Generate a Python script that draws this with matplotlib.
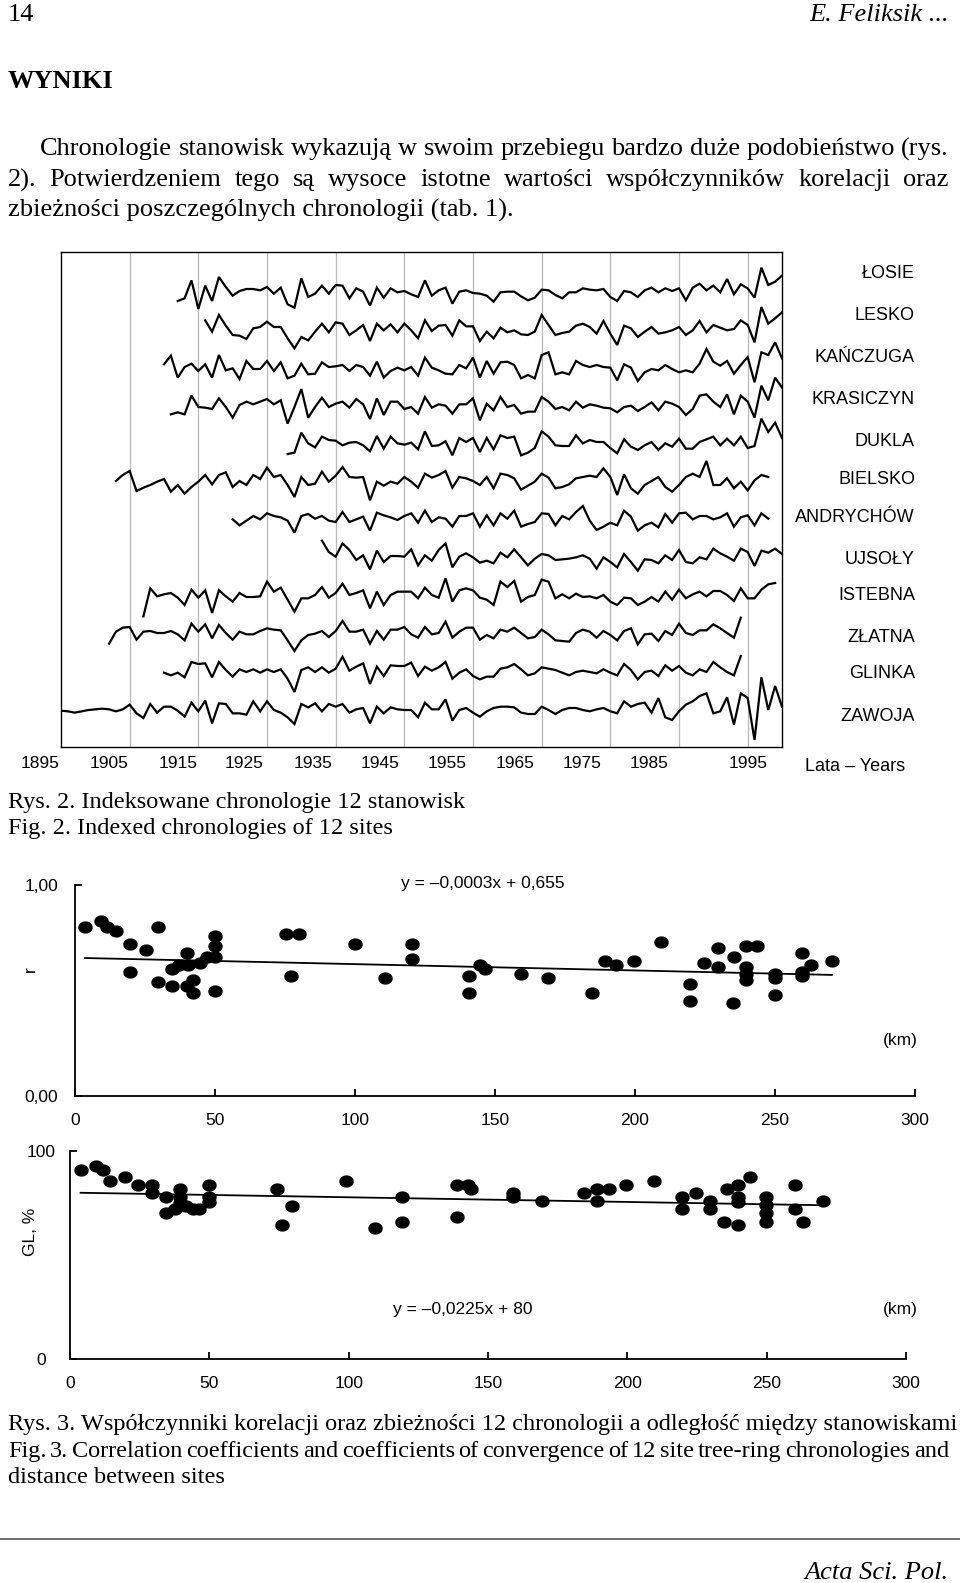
import numpy as np
import matplotlib
matplotlib.use('Agg')
import matplotlib.pyplot as plt
from matplotlib.transforms import Affine2D
from matplotlib.lines import Line2D

plt.rcParams['font.family'] = ['Liberation Sans', 'DejaVu Sans']

# ---- Rys. 2: indexed chronologies (index values, one per year) ----
sites = ['ŁOSIE', 'LESKO', 'KAŃCZUGA', 'KRASICZYN', 'DUKLA', 'BIELSKO',
         'ANDRYCHÓW', 'UJSOŁY', 'ISTEBNA', 'ZŁATNA', 'GLINKA', 'ZAWOJA']
first_year = [1912, 1916, 1910, 1911, 1928, 1903, 1920, 1933, 1907, 1902, 1910, 1895]

losie = [86, 90, 117, 74, 109, 86, 122, 107, 94, 101, 104, 104, 102, 107, 97, 106, 81, 76, 120, 92, 97, 109, 97, 110,
         109, 90, 105, 100, 79, 106, 91, 105, 99, 101, 96, 92, 117, 94, 102, 106, 82, 100, 102, 98, 97, 94, 85, 99, 100, 100,
         93, 87, 91, 103, 102, 95, 90,
         99, 99, 105, 103, 102, 104, 92, 86, 101, 99, 92, 102, 106, 99, 105, 101, 105, 87, 106, 112, 102, 109, 99, 119, 96,
         111, 105, 91, 136, 110, 115, 124]
lesko = [112, 95, 120, 104, 90, 89, 84, 100, 102, 110, 102, 102, 85, 70, 87, 82, 95, 107, 94, 109,
         107, 90, 97, 105, 81, 107, 97, 106, 94, 107, 97, 85, 112, 96, 104, 105, 89, 112, 103, 103, 81, 95, 85, 101, 94, 97,
         91, 90, 95, 120, 105, 90, 93,
         95, 104, 107, 102, 92, 111, 92, 75, 104, 100, 87, 95, 102, 92, 94, 97, 102, 90, 97, 111, 94, 105, 101, 97, 99, 112,
         105, 79, 132, 107, 115, 124]
kanczuga = [106, 119, 86, 102, 107, 96, 106, 86, 120, 97, 100, 84, 111, 99, 99, 111, 96, 109, 85, 89, 107, 91, 92, 109,
            102, 103,
            105, 96, 105, 102, 89, 110, 86, 96, 101, 97, 102, 89, 116, 101, 97, 92, 91, 105, 100, 116, 86, 111, 92, 109, 110,
            105, 85, 90, 85, 120, 124, 91, 94,
            91, 111, 105, 102, 105, 102, 101, 82, 106, 101, 81, 94, 99, 97, 105, 99, 94, 97, 94, 107, 129, 110, 104, 111, 92,
            105, 117, 79, 124, 120, 139, 115]
krasiczyn = [86, 89, 86, 114, 97, 96, 94, 110, 97, 81, 100, 105, 101, 105, 109, 101, 107, 72, 97, 124, 81, 97, 111, 97, 102,
             105, 96, 109, 101, 79, 110, 85, 105, 105, 94, 97, 87, 112, 96, 101, 99, 87, 101, 101, 110, 77, 102, 92, 112, 97,
             100, 87, 90, 90, 112, 105, 94, 97,
             92, 105, 96, 101, 99, 96, 95, 89, 97, 99, 91, 97, 104, 92, 105, 102, 97, 85, 94, 114, 116, 105, 97, 116, 86, 114,
             105, 81, 129, 107, 141, 126]
dukla = [84, 86, 116, 100, 94, 110, 105, 104,
         97, 101, 102, 97, 88, 111, 92, 110, 100, 98, 101, 91, 118, 96, 97, 103, 82, 108, 102, 108, 87, 108, 91, 112, 108, 110,
         82, 86, 93, 118, 110, 97, 96,
         96, 112, 100, 105, 102, 102, 93, 85, 106, 95, 90, 97, 102, 90, 100, 95, 107, 92, 92, 102, 106, 110, 97, 107, 97, 110,
         93, 96, 137, 117, 131, 108]
bielsko = [101, 110, 116, 86, 91, 95, 100, 104, 85, 95, 82, 92, 100, 110, 96, 110, 114, 92, 101, 95, 110, 104, 121, 107, 110,
           95, 77, 107, 95, 97, 115, 100, 109,
           122, 107, 106, 107, 72, 100, 94, 100, 97, 107, 100, 91, 112, 106, 110, 116, 91, 107, 105, 101, 95, 107, 90, 112, 110,
           105, 88, 94, 100, 112, 106, 90, 92,
           96, 105, 107, 109, 107, 120, 107, 80, 111, 90, 82, 95, 101, 107, 92, 85, 95, 107, 112, 107, 131, 95, 95, 105, 90,
           100, 87, 102, 110, 107]
andrychow = [100, 91, 98, 105, 100, 109, 105, 103, 98, 80, 105, 108, 101, 105, 98, 96,
             111, 96, 100, 104, 83, 110, 106, 103, 99, 105, 109, 95, 113, 96, 103, 101, 89, 105, 105, 109, 89, 106, 91, 109,
             101, 113, 89, 93, 96, 109, 108, 91, 105,
             100, 111, 120, 98, 84, 89, 95, 91, 113, 104, 83, 91, 95, 88, 108, 95, 109, 110, 100, 105, 105, 100, 103, 109, 89,
             103, 106, 91, 109, 101]
ujsoly = [124, 107, 100,
          120, 110, 95, 102, 81, 109, 92, 101, 101, 100, 111, 87, 102, 94, 110, 120, 84, 100, 105, 99, 91, 94, 90, 106, 99, 111,
          99, 87, 97, 104, 102, 95, 96,
          97, 99, 102, 97, 82, 99, 92, 84, 104, 92, 79, 96, 95, 90, 102, 95, 110, 92, 90, 99, 96, 112, 105, 100, 94, 112, 107,
          86, 109, 106, 112, 104]
istebna = [68, 110, 98, 101, 103, 96, 85, 108, 96, 107, 73, 107, 98, 90, 103, 97, 97, 98, 120, 105, 111, 93, 75, 95, 95, 100,
           112, 96, 103,
           117, 100, 103, 107, 80, 105, 85, 100, 105, 105, 105, 95, 111, 100, 96, 125, 90, 107, 110, 107, 96, 93, 85, 120, 112,
           121, 90, 97, 100, 123, 120, 95, 101,
           95, 102, 97, 98, 95, 100, 90, 85, 96, 95, 85, 90, 97, 90, 105, 93, 108, 95, 101, 105, 98, 106, 106, 100, 91, 110,
           95, 95, 108, 116, 118]
zlatna = [82, 100, 106, 107, 88, 100, 101, 98, 98, 101, 96, 87, 112, 100, 111, 90, 110, 98, 88, 100, 96, 96, 101, 105, 103,
          102, 87, 71, 87, 95, 97, 101, 92, 101,
          116, 100, 100, 103, 82, 101, 88, 103, 103, 107, 96, 91, 107, 96, 98, 115, 91, 100, 106, 106, 88, 95, 90, 103, 100,
          106, 98, 90, 92, 103, 96, 87, 86,
          85, 98, 103, 100, 91, 101, 95, 87, 101, 105, 81, 96, 97, 86, 101, 95, 112, 98, 95, 102, 102, 111, 105, 98, 91, 121]
glinka = [96, 92, 96, 89, 112, 109, 110, 89, 112, 100, 90, 101, 97, 101, 96, 101, 97, 101, 87, 67, 100, 104, 97, 104, 96, 102,
          120, 99, 105, 110, 79, 105, 91, 107, 106, 106, 111, 91, 105, 99, 104, 112, 87, 96, 101, 91, 86, 90, 90, 102, 104,
          109, 101, 92, 95, 104, 102, 100, 96,
          92, 97, 99, 97, 95, 101, 96, 92, 109, 100, 86, 97, 99, 91, 107, 99, 106, 96, 92, 101, 97, 112, 104, 97, 92, 121]
zawoja = [99, 98, 96, 98, 100, 101, 102, 101, 98, 101, 108, 95, 88, 109, 96, 105, 105, 99, 90, 111, 98, 114, 80, 110, 109,
          95, 95, 93, 113, 98, 113, 100, 96, 89, 79, 109, 104, 110, 98, 109, 105,
          109, 96, 101, 103, 80, 105, 95, 104, 101, 100, 100, 89, 111, 101, 101, 116, 84, 100, 103, 96, 90, 98, 103, 105, 105,
          104, 96, 94, 94, 105, 100, 94, 100,
          103, 103, 100, 98, 101, 103, 98, 95, 113, 105, 109, 111, 96, 118, 89, 85, 98, 108, 113, 121, 125, 95, 98, 119, 78,
          125, 118, 55, 149, 100, 136, 105]
chronologies = [losie, lesko, kanczuga, krasiczyn, dukla, bielsko,
                andrychow, ujsoly, istebna, zlatna, glinka, zawoja]

year_labels = ['1895', '1905', '1915', '1925', '1935', '1945', '1955', '1965', '1975', '1985', '1995']

# ---- Rys. 3: correlation (r) and convergence (GL, %) against distance (km) ----
r_km = [3.6, 9.4, 11.4, 14.7, 19.8, 25.2, 19.8, 29.6, 29.6, 34.8, 34.8, 37.2, 39.9, 40.2, 39.9, 42.3, 42.0,
        44.7, 47.1, 50.0, 50.0, 50.0, 50.0, 75.2, 80.0, 77.1, 100.1, 110.7, 120.5, 120.5, 140.6, 140.6, 144.7,
        146.3, 159.2, 169.1, 184.7, 189.2, 193.3, 199.8, 209.4, 219.7, 219.7, 224.5, 229.7, 229.7, 235.5, 234.9,
        239.5, 243.5, 239.5, 239.5, 239.5, 249.9, 249.9, 249.9, 259.7, 259.7, 259.7, 262.7, 270.3]
r_val = [0.80, 0.83, 0.80, 0.78, 0.72, 0.69, 0.59, 0.80, 0.54, 0.60, 0.52, 0.62, 0.68, 0.62, 0.52, 0.55, 0.49,
         0.63, 0.66, 0.76, 0.71, 0.66, 0.50, 0.77, 0.77, 0.57, 0.72, 0.56, 0.72, 0.65, 0.57, 0.49, 0.62,
         0.60, 0.58, 0.56, 0.49, 0.64, 0.62, 0.64, 0.73, 0.53, 0.45, 0.63, 0.70, 0.61, 0.66, 0.44,
         0.71, 0.71, 0.61, 0.58, 0.55, 0.58, 0.56, 0.48, 0.68, 0.59, 0.57, 0.62, 0.64]
r_slope, r_icpt = -0.0003, 0.655

gl_km = [3.8, 9.3, 11.7, 14.5, 19.6, 24.4, 29.5, 29.5, 34.5, 34.5, 37.5, 39.3, 39.3, 39.3, 41.7, 44.0, 46.4,
         49.8, 49.8, 49.8, 74.4, 76.0, 79.5, 99.0, 109.3, 119.0, 119.0, 139.0, 139.0, 142.9, 144.0,
         158.8, 158.8, 169.4, 184.5, 189.0, 189.0, 193.4, 199.6, 209.5, 219.6, 219.6, 224.8, 229.8, 229.8, 234.7,
         235.9, 239.7, 239.7, 239.7, 239.7, 244.1, 249.8, 249.8, 249.8, 249.8, 260.3, 260.3, 263.1, 270.3]
gl_val = [90.9, 92.8, 90.9, 85.6, 87.7, 83.7, 83.7, 80.0, 77.8, 70.1, 72.0, 81.6, 77.8, 74.9, 73.6, 72.0, 72.0,
          83.7, 77.8, 75.7, 81.6, 64.5, 73.6, 85.6, 62.9, 77.8, 66.1, 83.7, 68.2, 83.7, 81.6,
          80.0, 77.8, 76.0, 80.0, 81.6, 76.0, 81.6, 83.7, 85.6, 77.8, 72.0, 80.0, 76.0, 72.0, 66.1,
          81.6, 83.7, 77.8, 75.7, 64.5, 87.7, 77.8, 74.1, 70.1, 66.1, 83.7, 72.0, 66.1, 76.0]
gl_slope, gl_icpt = -0.0225, 80

# ---------------------------------------------------------------------------
W, H = 960, 1583
fig = plt.figure(figsize=(W / 100, H / 100), dpi=100)
pix = Affine2D().scale(1 / W, -1 / H).translate(0, 1) + fig.transFigure
renderer = fig.canvas.get_renderer()
SERIF = 'Liberation Serif'


def rect(l, t, r, b):
    return [l / W, 1 - b / H, (r - l) / W, (b - t) / H]


def width_of(s, **kw):
    t = fig.text(0, 0, s, **kw)
    w = t.get_window_extent(renderer).width
    t.remove()
    return w


def fit_size(s, target, **kw):
    return 18 * target / width_of(s, fontsize=18, **kw)


def justified(line, x0, x1, y, **kw):
    words = line.split()
    texts = [fig.text(0, y, w, transform=pix, va='center', **kw) for w in words]
    widths = [t.get_window_extent(renderer).width for t in texts]
    gap = (x1 - x0 - sum(widths)) / (len(words) - 1)
    x = x0
    for t, w in zip(texts, widths):
        t.set_x(x)
        x += w + gap


# ---- page text ----
line1 = 'Chronologie stanowisk wykazują w swoim przebiegu bardzo duże podobieństwo (rys.'
fs_body = fit_size(line1, 909, family=SERIF)
fig.text(8, 15, '14', transform=pix, va='center', family=SERIF, fontsize=fs_body)
fig.text(949, 15, 'E. Feliksik ...', transform=pix, va='center', ha='right', family=SERIF,
         style='italic', fontsize=fs_body)
fig.text(8, 81, 'WYNIKI', transform=pix, va='center', family=SERIF, weight='bold', fontsize=fs_body)
justified(line1, 40, 949, 149, family=SERIF, fontsize=fs_body)
justified('2). Potwierdzeniem tego są wysoce istotne wartości współczynników korelacji oraz', 8, 949, 180,
          family=SERIF, fontsize=fs_body)
fig.text(8, 210, 'zbieżności poszczególnych chronologii (tab. 1).', transform=pix, va='center',
         family=SERIF, fontsize=fs_body)

cap3 = 'Rys. 3. Współczynniki korelacji oraz zbieżności 12 chronologii a odległość między stanowiskami'
fs_cap = fit_size(cap3, 947, family=SERIF)
fig.text(8, 803, 'Rys. 2. Indeksowane chronologie 12 stanowisk', transform=pix, va='center',
         family=SERIF, fontsize=fs_cap)
fig.text(8, 829, 'Fig. 2. Indexed chronologies of 12 sites', transform=pix, va='center',
         family=SERIF, fontsize=fs_cap)
fig.text(8, 1425, cap3, transform=pix, va='center', family=SERIF, fontsize=fs_cap)
justified('Fig. 3. Correlation coefficients and coefficients of convergence of 12 site tree-ring chronologies and',
          8, 949, 1452, family=SERIF, fontsize=fs_cap)
fig.text(8, 1478, 'distance between sites', transform=pix, va='center', family=SERIF, fontsize=fs_cap)

fig.add_artist(Line2D([0, 960], [1539, 1539], transform=pix, color='#555555', lw=1.2))
fig.text(949, 1573, 'Acta Sci. Pol.', transform=pix, va='center', ha='right', family=SERIF,
         style='italic', fontsize=fs_body)

# ---- Rys. 2 ----
offsets = [583, 528, 468, 413, 355.5, 298, 241.5, 185.5, 128, 73, 15.5, -44.5]
label_y = [274, 315, 357, 399, 441, 479, 518, 559, 596, 638, 674, 717]
label_pos = [1892.0, 1902.0, 1912.0, 1921.7, 1931.7, 1941.4, 1951.2, 1961.1, 1970.9, 1980.6, 1995.0]

ax = fig.add_axes(rect(61, 252, 782, 747))
for yr in range(1905, 2000, 10):
    ax.axvline(yr, color='#b8b8b8', lw=0.9, zorder=0)
for name, start, vals, off, ly in zip(sites, first_year, chronologies, offsets, label_y):
    yrs = start + np.arange(len(vals))
    ax.plot(yrs, np.array(vals) + off, color='black', lw=1.6, solid_joinstyle='miter')
    fig.text(915, ly, name, transform=pix, ha='right', va='center', fontsize=13)
ax.set_xlim(1895, 2000)
ax.set_ylim(0, 742.5)
ax.set_xticks([])
ax.set_yticks([])
for pos, lab in zip(label_pos, year_labels):
    ax.text(pos, -0.034, lab, transform=ax.get_xaxis_transform(), ha='center', va='center',
            fontsize=12.5, clip_on=False)
for s in ax.spines.values():
    s.set_linewidth(1.0)
fig.text(805, 767, 'Lata – Years', transform=pix, va='center', fontsize=13)

# ---- Rys. 3 ----
t = np.linspace(0, 2 * np.pi, 40)
dot = np.column_stack([1.2 * np.cos(t), np.sin(t)])


def scatter_panel(box, km, val, slope, icpt, ymax, ylabels, ylab, ylab_pos, eq, eq_pos, km_pos, ypad, yha):
    a = fig.add_axes(rect(*box))
    a.plot(km, val, ls='none', marker=dot, ms=9.4, color='black')
    xs = np.array([min(km), max(km)])
    a.plot(xs, slope * xs + icpt, color='black', lw=1.3)
    a.set_xlim(0, 300)
    a.set_ylim(0, ymax)
    a.spines['top'].set_visible(False)
    a.spines['right'].set_visible(False)
    for s in ('left', 'bottom'):
        a.spines[s].set_linewidth(1.3)
    a.set_xticks(range(0, 301, 50))
    a.set_yticks([0, ymax], ylabels)
    a.tick_params(direction='in', length=5, width=1.3, labelsize=12.5)
    a.tick_params(axis='x', pad=12)
    a.tick_params(axis='y', pad=ypad)
    for lab in a.get_yticklabels():
        lab.set_horizontalalignment(yha)
    a.set_ylabel(ylab, fontsize=12.5)
    a.yaxis.set_label_coords(*ylab_pos)
    a.text(*eq_pos, eq, transform=a.transAxes, ha='center', va='center', fontsize=12.5)
    a.text(*km_pos, '(km)', transform=a.transAxes, ha='center', va='center', fontsize=12.5)
    return a


scatter_panel((75, 885, 915, 1096), r_km, r_val, r_slope, r_icpt, 1.0, ['0,00', '1,00'], 'r',
              (-0.044, 0.60), 'y = –0,0003x + 0,655', (0.486, 1.005), (0.982, 0.265), 12, 'right')
scatter_panel((70, 1151, 906, 1359), gl_km, gl_val, gl_slope, gl_icpt, 100, ['0', '100'], 'GL, %',
              (-0.038, 0.61), 'y = –0,0225x + 80', (0.470, 0.237), (0.993, 0.237), 20.5, 'center')

fig.savefig('out.png', dpi=100)
